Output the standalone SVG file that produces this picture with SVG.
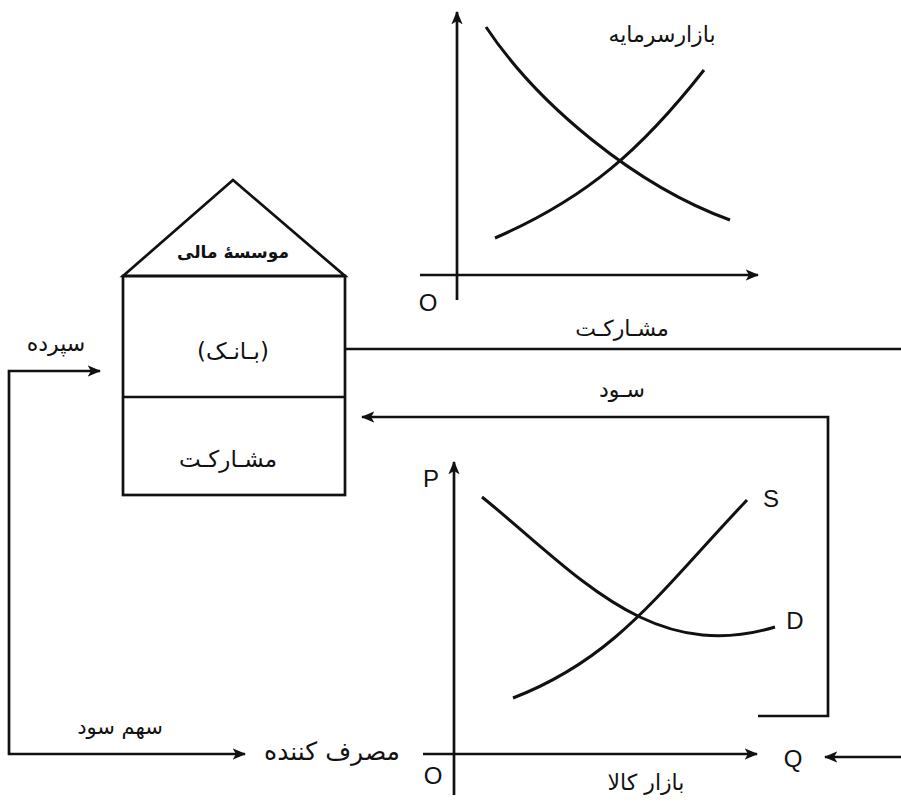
<svg xmlns="http://www.w3.org/2000/svg" width="901" height="803" viewBox="0 0 901 803">
<defs>
<marker id="ah" viewBox="0 0 12 10" refX="11" refY="5" markerWidth="5" markerHeight="4.5" markerUnits="strokeWidth" orient="auto">
<path d="M0,0 L12,5 L0,10 L3,5 Z" fill="#111"/>
</marker>
</defs>
<style>
.ln{fill:none;stroke:#111;stroke-width:2.7}
.cv{fill:none;stroke:#111;stroke-width:3}
.fa{font-family:"DejaVu Sans","Noto Sans",sans-serif;fill:#111;text-anchor:middle}
.la{font-family:"Liberation Sans",Arial,sans-serif;fill:#111;font-size:24px;text-anchor:middle}
</style>
<rect width="901" height="803" fill="#fff"/>
<g id="capital-market">
<line class="ln" x1="457" y1="300" x2="457" y2="12" marker-end="url(#ah)"/>
<line class="ln" x1="420" y1="275" x2="758" y2="275" marker-end="url(#ah)"/>
<text class="la" x="428" y="311">O</text>
<text class="fa" x="662" y="42" font-size="22" direction="rtl">بازارسرمایه</text>
<path class="cv" d="M486,27 C538,105 636,186 730,220"/>
<path class="cv" d="M495,238 C587,198 642,149 704,70"/>
</g>
<g id="bank">
<path class="ln" d="M123,276 L233,180 L345,276 Z"/>
<rect class="ln" x="123" y="276" width="222" height="219"/>
<line class="ln" x1="123" y1="397" x2="345" y2="397"/>
<text class="fa" x="233" y="258" font-size="17" font-weight="bold" direction="rtl">موسسهٔ مالی</text>
<text class="fa" x="233" y="359" font-size="23" direction="rtl">(بـانـک)</text>
<text class="fa" x="228" y="467" font-size="23" direction="rtl">مشـارکـت</text>
</g>
<g id="goods-market">
<line class="ln" x1="454" y1="795" x2="454" y2="462" marker-end="url(#ah)"/>
<line class="ln" x1="423" y1="754" x2="757" y2="754" marker-end="url(#ah)"/>
<text class="la" x="431" y="487">P</text>
<text class="la" x="433" y="784">O</text>
<text class="la" x="793" y="767">Q</text>
<text class="la" x="771" y="507">S</text>
<text class="la" x="795" y="629">D</text>
<text class="fa" x="646" y="790" font-size="22" direction="rtl">بازار کالا</text>
<path class="cv" d="M482,497 C575.6,572.6 650.7,665 775,627"/>
<path class="cv" d="M513,698 C615.3,658.4 658,594 747,500"/>
</g>
<g id="labels">
<text class="fa" x="622" y="336" font-size="22" direction="rtl">مشـارکـت</text>
<text class="fa" x="622" y="397" font-size="22" direction="rtl">سـود</text>
<text class="fa" x="56" y="351" font-size="22" direction="rtl">سپرده</text>
<text class="fa" x="120" y="734" font-size="21" direction="rtl">سهم سود</text>
<text class="fa" x="332" y="760" font-size="25" direction="rtl">مصرف کننده</text>
</g>
<g id="connectors">
<line class="ln" x1="345" y1="349" x2="901" y2="349"/>
<polyline class="ln" points="758,716 828,716 828,417 362,417" marker-end="url(#ah)"/>
<polyline class="ln" points="9,755 9,371 100,371" marker-end="url(#ah)"/>
<line class="ln" x1="8" y1="754" x2="245" y2="754" marker-end="url(#ah)"/>
<line class="ln" x1="901" y1="757" x2="825" y2="757" marker-end="url(#ah)"/>
</g>
</svg>
